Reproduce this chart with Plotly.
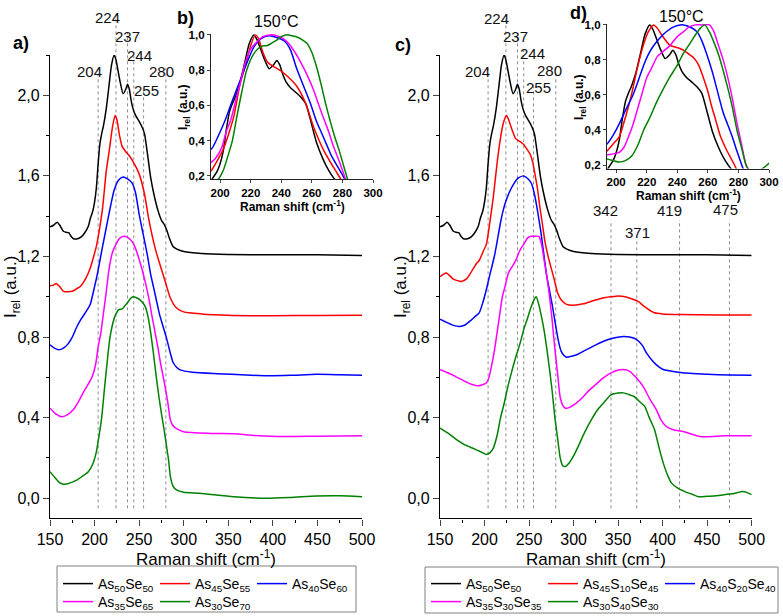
import plotly.graph_objects as go

W, H = 783, 616
FONT = "Liberation Sans, Arial, sans-serif"

# ---------------- data (normalised Raman spectra) ----------------
x_as50se50 = [150,154,158,161,165,168,171,174,177,181,185,189,193,195,198,200,202,204,206,208,210,213,216,219,222,224,226,229,232,235,237,239,241,243,246,250,253,256,259,263,267,271,275,278,281,284,288,293,300,320,350,400,450,500]
y_as50se50 = [0.147,0.155,0.170,0.155,0.125,0.120,0.118,0.098,0.087,0.088,0.097,0.118,0.150,0.185,0.225,0.27,0.34,0.46,0.56,0.61,0.65,0.73,0.84,0.95,1.0,0.975,0.93,0.86,0.808,0.83,0.855,0.83,0.775,0.735,0.70,0.67,0.645,0.61,0.52,0.39,0.30,0.23,0.18,0.16,0.13,0.09,0.05,0.035,0.025,0.015,0.01,0.008,0.008,0.005]

x_as45se55 = [150,154,157,161,165,170,175,180,184,190,195,199,202,206,209,213,216,220,223,225,228,231,235,239,244,250,256,261,268,274,279,285,292,300,320,350,375,400,450,500]
y_as45se55 = [0.155,0.158,0.166,0.15,0.127,0.125,0.127,0.14,0.151,0.19,0.24,0.30,0.35,0.45,0.54,0.72,0.81,0.94,1.0,0.98,0.90,0.845,0.82,0.80,0.765,0.71,0.61,0.48,0.34,0.25,0.18,0.094,0.044,0.025,0.015,0.008,0.006,0.006,0.007,0.008]

x_as40se60 = [150,155,160,165,170,175,180,185,191,195,200,203,206,209,213,217,222,227,232,237,242,246,250,255,259,263,266,270,273,277,281,285,288,292,296,310,337,370,393,420,449,475,500]
y_as40se60 = [0.162,0.145,0.137,0.145,0.165,0.20,0.25,0.29,0.33,0.36,0.45,0.51,0.58,0.65,0.74,0.83,0.93,0.98,0.995,0.985,0.965,0.915,0.81,0.70,0.612,0.51,0.45,0.37,0.31,0.25,0.19,0.12,0.075,0.05,0.037,0.025,0.018,0.012,0.008,0.01,0.015,0.013,0.01]

x_as35se65 = [150,156,163,170,176,182,187,192,197,201,204,207,210,213,216,220,224,228,233,237,241,245,249,253,257,261,265,268,271,274,278,282,285,288,292,300,330,356,380,412,450,500]
y_as35se65 = [0.147,0.12,0.105,0.115,0.139,0.18,0.222,0.26,0.30,0.36,0.45,0.52,0.62,0.72,0.83,0.92,0.96,0.99,1.0,0.995,0.98,0.95,0.90,0.84,0.77,0.69,0.59,0.52,0.45,0.37,0.28,0.18,0.09,0.06,0.046,0.03,0.022,0.02,0.012,0.006,0.008,0.01]

x_as30se70 = [150,155,160,165,170,175,180,186,193,198,202,205,208,211,214,217,220,223,227,231,234,237,240,243,247,251,254,257,260,263,266,269,272,275,278,281,283,285,288,292,300,318,356,393,420,449,475,500]
y_as30se70 = [0.132,0.105,0.08,0.07,0.072,0.08,0.09,0.108,0.132,0.17,0.23,0.31,0.40,0.54,0.67,0.79,0.86,0.905,0.935,0.94,0.955,0.97,0.99,1.0,0.995,0.985,0.97,0.95,0.90,0.82,0.72,0.61,0.51,0.42,0.34,0.25,0.19,0.11,0.06,0.041,0.03,0.025,0.008,0.0,0.004,0.011,0.012,0.008]

x_as45s10se45 = [150,157,165,174,180,186,191,194,198,202,206,210,214,218,221,224.5,227,230,235,240,244,248,251,254,257,260,262,265,268,272,275,278,282,286,292,300,311,322,333,342,350,358,365,372,380,390,400,420,460,500]
y_as45s10se45 = [0.20,0.218,0.188,0.176,0.19,0.23,0.265,0.28,0.32,0.36,0.47,0.60,0.76,0.89,0.96,1.0,0.98,0.94,0.885,0.87,0.856,0.83,0.81,0.77,0.70,0.62,0.55,0.46,0.37,0.29,0.24,0.19,0.12,0.085,0.062,0.058,0.065,0.08,0.094,0.10,0.104,0.1,0.09,0.078,0.05,0.022,0.015,0.012,0.01,0.01]

x_as40s20se40 = [150,158,165,172,178,184,189,194,198,202,206,211,214,218,221,224,228,233,238,244,249,253,256,259,263,266,270,273,276,279,283,286,289,292,298,305,311,320,333,345,356,363,370,377,382,388,393,400,412,430,450,475,500]
y_as40s20se40 = [0.289,0.272,0.258,0.253,0.26,0.28,0.30,0.32,0.37,0.435,0.51,0.60,0.67,0.77,0.83,0.875,0.92,0.962,0.99,1.0,0.985,0.96,0.91,0.84,0.73,0.63,0.50,0.43,0.36,0.28,0.18,0.13,0.11,0.10,0.105,0.115,0.129,0.15,0.178,0.195,0.203,0.2,0.19,0.16,0.12,0.085,0.062,0.04,0.029,0.02,0.015,0.012,0.01]

x_as35s30se35 = [150,155,160,165,169,174,178,183,187,192,197,202,205,208,211,214,217,220,223,227,231,235,240,244,248,252,256,261,264,267,270,273,276,279,282,285,288,291,295,303,310,318,325,333,343,352,358,363,370,378,386,393,398,404,412,423,442,470,500]
y_as35s30se35 = [0.338,0.33,0.32,0.31,0.30,0.29,0.28,0.27,0.263,0.258,0.262,0.272,0.30,0.36,0.43,0.52,0.61,0.70,0.75,0.82,0.85,0.88,0.933,0.96,0.99,1.0,1.0,1.0,0.96,0.88,0.80,0.70,0.58,0.44,0.32,0.20,0.16,0.147,0.15,0.172,0.20,0.238,0.265,0.296,0.325,0.338,0.338,0.33,0.30,0.255,0.19,0.139,0.09,0.056,0.04,0.031,0.006,0.01,0.01]

x_as30s40se30 = [150,160,169,178,187,195,202,206,210,214,218,222,226,230,235,240,244,248,252,255,258,261,264,267,270,273,276,279,282,285,288,291,295,300,306,312,320,327,335,342,350,356,362,368,374,380,385,391,396,402,406,410,417,425,433,440,450,460,470,480,490,495,500]
y_as30s40se30 = [0.348,0.32,0.29,0.265,0.248,0.232,0.217,0.225,0.25,0.31,0.40,0.47,0.55,0.62,0.70,0.77,0.837,0.89,0.945,0.98,1.0,0.96,0.90,0.83,0.74,0.64,0.53,0.40,0.30,0.20,0.16,0.158,0.175,0.21,0.265,0.323,0.39,0.439,0.48,0.513,0.522,0.523,0.515,0.505,0.48,0.455,0.40,0.339,0.25,0.157,0.11,0.075,0.05,0.033,0.02,0.008,0.01,0.012,0.018,0.024,0.033,0.028,0.018]

names_a = ["As<sub>50</sub>Se<sub>50</sub>", "As<sub>45</sub>Se<sub>55</sub>", "As<sub>40</sub>Se<sub>60</sub>",
           "As<sub>35</sub>Se<sub>65</sub>", "As<sub>30</sub>Se<sub>70</sub>"]
names_c = ["As<sub>50</sub>Se<sub>50</sub>", "As<sub>45</sub>S<sub>10</sub>Se<sub>45</sub>",
           "As<sub>40</sub>S<sub>20</sub>Se<sub>40</sub>", "As<sub>35</sub>S<sub>30</sub>Se<sub>35</sub>",
           "As<sub>30</sub>S<sub>40</sub>Se<sub>30</sub>"]
offsets = [1.2, 0.9, 0.6, 0.3, 0.0]

series_a = [(x_as50se50, y_as50se50), (x_as45se55, y_as45se55), (x_as40se60, y_as40se60),
            (x_as35se65, y_as35se65), (x_as30se70, y_as30se70)]
series_c = [(x_as50se50, y_as50se50), (x_as45s10se45, y_as45s10se45), (x_as40s20se40, y_as40s20se40),
            (x_as35s30se35, y_as35s30se35), (x_as30s40se30, y_as30s40se30)]

peaks_a = [204, 224, 237, 244, 255, 280]
peaks_c = [204, 224, 237, 244, 255, 280, 342, 371, 419, 475]

# ---------------- styling ----------------
colors = ["#000000", "#ff0000", "#0000ff", "#ff00ff", "#008000"]
# label placement: (x shift px, label centre y px, line top y px)
lab_a = {204: (-9, 61, 68), 224: (-8, 7, 14), 237: (0, 26, 33), 244: (6, 45, 52), 255: (3, 80, 88), 280: (-4, 61, 68)}
lab_c = {204: (-11, 61, 68), 224: (-9, 8, 15), 237: (-2, 26, 33), 244: (9, 43, 50), 255: (5, 77, 85),
         280: (-6, 60, 68), 342: (-5, 211, 220), 371: (1, 232, 240), 419: (-10, 211, 220), 475: (-4, 210, 220)}
# legend rows and entry widths (last entry of a row gets extra room so its text is not clipped)
leg_rows_a = ["legend", "legend", "legend", "legend3", "legend3"]
leg_rows_c = ["legend2", "legend2", "legend2", "legend4", "legend4"]
leg_w_a = [52, 52, 110, 52, 110]
leg_w_c = [72, 72, 110, 72, 110]


def px(p):
    return p / W


def py(p):
    return 1 - p / H


MAIN_Y = [py(518.4), py(55)]
YR = [-0.1, 2.2]


def yval_to_paper(v):
    return MAIN_Y[0] + (v - YR[0]) / (YR[1] - YR[0]) * (MAIN_Y[1] - MAIN_Y[0])


fig = go.Figure()
LW = 1.5
for i, ((xs, ys), nm) in enumerate(zip(series_a, names_a)):
    fig.add_trace(go.Scatter(x=xs, y=[v + offsets[i] for v in ys], mode="lines", name=nm,
                             line=dict(color=colors[i], width=LW, shape="spline", smoothing=0.6),
                             xaxis="x", yaxis="y", legend=leg_rows_a[i], legendwidth=leg_w_a[i]))
for i, ((xs, ys), nm) in enumerate(zip(series_c, names_c)):
    fig.add_trace(go.Scatter(x=xs, y=[v + offsets[i] for v in ys], mode="lines", name=nm,
                             line=dict(color=colors[i], width=LW, shape="spline", smoothing=0.6),
                             xaxis="x2", yaxis="y2", legend=leg_rows_c[i], legendwidth=leg_w_c[i]))
for i, (xs, ys) in enumerate(series_a):
    fig.add_trace(go.Scatter(x=xs, y=ys, mode="lines", showlegend=False,
                             line=dict(color=colors[i], width=LW, shape="spline", smoothing=0.6),
                             xaxis="x3", yaxis="y3"))
for i, (xs, ys) in enumerate(series_c):
    fig.add_trace(go.Scatter(x=xs, y=ys, mode="lines", showlegend=False,
                             line=dict(color=colors[i], width=LW, shape="spline", smoothing=0.6),
                             xaxis="x4", yaxis="y4"))

main_x = dict(range=[150, 500], tickmode="linear", tick0=150, dtick=50, ticks="outside", ticklen=6,
              tickwidth=1, showline=True, linecolor="black", linewidth=1.3, showgrid=False, zeroline=False,
              tickfont=dict(family=FONT, size=16, color="black"),
              minor=dict(dtick=25, ticks="outside", ticklen=3, tickcolor="black"))
main_y = dict(range=YR, domain=MAIN_Y, tickmode="linear", tick0=0, dtick=0.4, tickformat=".1f",
              ticks="outside", ticklen=6, tickwidth=1, showline=True, linecolor="black", linewidth=1.3,
              showgrid=False, zeroline=False, tickfont=dict(family=FONT, size=16, color="black"),
              minor=dict(dtick=0.2, ticks="outside", ticklen=3, tickcolor="black"))
ins_x = dict(range=[194, 300], tickmode="linear", tick0=200, dtick=20, ticks="outside", ticklen=3,
             showline=True, linecolor="#222", linewidth=1.2, showgrid=False, zeroline=False,
             tickfont=dict(family=FONT, size=11.5, color="black", weight="bold"))
ins_y = dict(range=[0.18, 1.005], tickmode="linear", tick0=0.2, dtick=0.2, tickformat=".1f",
             ticks="outside", ticklen=3, showline=True, linecolor="#222", linewidth=1.2,
             showgrid=False, zeroline=False, tickfont=dict(family=FONT, size=11.5, color="black", weight="bold"))

leg_common = dict(orientation="h", xanchor="left", yanchor="top", borderwidth=0,
                  bgcolor="rgba(0,0,0,0)", font=dict(family=FONT, size=14, color="black"),
                  entrywidthmode="pixels", tracegroupgap=0)

fig.update_layout(
    width=W, height=H, margin=dict(l=0, r=0, t=0, b=0, autoexpand=False),
    paper_bgcolor="white", plot_bgcolor="rgba(0,0,0,0)", separators=",.",
    font=dict(family=FONT, color="black"),
    xaxis=dict(main_x, domain=[px(50), px(362)], anchor="y"),
    yaxis=dict(main_y, anchor="x"),
    xaxis2=dict(main_x, domain=[px(440), px(751.7)], anchor="y2"),
    yaxis2=dict(main_y, anchor="x2"),
    xaxis3=dict(ins_x, domain=[px(211), px(373)], anchor="y3"),
    yaxis3=dict(ins_y, domain=[py(179.3), py(34)], anchor="x3"),
    xaxis4=dict(ins_x, domain=[px(607), px(769)], anchor="y4"),
    yaxis4=dict(ins_y, domain=[py(168.5), py(24)], anchor="x4"),
    legend=dict(leg_common, x=px(58), y=py(568)),
    legend3=dict(leg_common, x=px(58), y=py(586)),
    legend2=dict(leg_common, x=px(426), y=py(568)),
    legend4=dict(leg_common, x=px(426), y=py(586)),
)

shapes = [
    dict(type="rect", xref="paper", yref="paper", x0=px(57), x1=px(356), y0=py(612), y1=py(566),
         line=dict(color="#808080", width=1)),
    dict(type="rect", xref="paper", yref="paper", x0=px(425), x1=px(778), y0=py(613), y1=py(567),
         line=dict(color="#808080", width=1)),
]
annos = []
bottom = yval_to_paper(-0.05)
for xr, peaks, labs in (("x", peaks_a, lab_a), ("x2", peaks_c, lab_c)):
    for p in peaks:
        dx, ylab, ytop = labs[p]
        shapes.append(dict(type="line", xref=xr, yref="paper", x0=p, x1=p, y0=bottom, y1=py(ytop),
                           line=dict(color="#8a8a9a", width=1, dash="dot"), layer="below"))
        annos.append(dict(xref=xr, yref="paper", x=p, y=py(ylab), text=str(p), showarrow=False,
                          xshift=dx, font=dict(family=FONT, size=15, color="#111")))


def txt(x, y, t, size, bold=False, angle=0):
    annos.append(dict(xref="paper", yref="paper", x=px(x), y=py(y), text=t, showarrow=False,
                      textangle=angle, xanchor="center", yanchor="middle",
                      font=dict(family=FONT, size=size, color="black", weight="bold" if bold else "normal")))


ylab = "I<sub>rel</sub> (a.u.)"
xlab = "Raman shift (cm<sup>-1</sup>)"
txt(12, 287, ylab, 17, angle=-90)
txt(402, 287, ylab, 17, angle=-90)
txt(206, 558, xlab, 17)
txt(596, 558, xlab, 17)
txt(184, 107, ylab, 12, bold=True, angle=-90)
txt(580, 97, ylab, 12, bold=True, angle=-90)
txt(292, 206, xlab, 12, bold=True)
txt(688, 195, xlab, 12, bold=True)
txt(21, 43, "a)", 18, bold=True)
txt(185, 18, "b)", 18, bold=True)
txt(403, 45, "c)", 18, bold=True)
txt(578, 13, "d)", 18, bold=True)
txt(276, 22, "150°C", 16)
txt(681, 16, "150°C", 16)

fig.update_layout(shapes=shapes, annotations=annos)
fig.write_html("out.html", config={"displayModeBar": False},
               post_script="document.body.style.margin='0';document.body.style.overflow='hidden';")
